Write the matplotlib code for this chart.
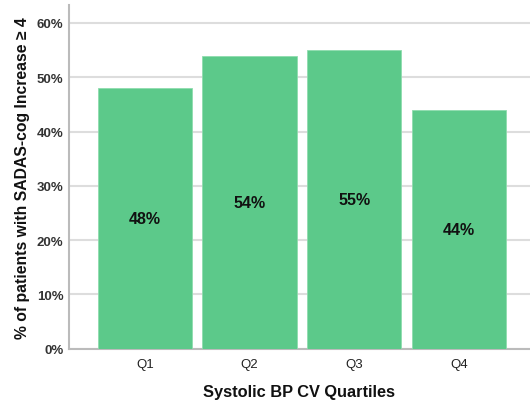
import matplotlib
matplotlib.use("Agg")
import matplotlib.pyplot as plt
from matplotlib.ticker import FuncFormatter

quartiles = ["Q1", "Q2", "Q3", "Q4"]
pct_increase = [48, 54, 55, 44]
bar_labels = ["48%", "54%", "55%", "44%"]
y_ticks = [0, 10, 20, 30, 40, 50, 60]

plt.rcParams["font.family"] = ["Liberation Sans", "DejaVu Sans"]

fig = plt.figure(figsize=(5.3, 4.06), dpi=100)
ax = fig.add_axes([0.130, 0.139, 0.870, 0.846])

x = range(len(quartiles))
bars = ax.bar(x, pct_increase, width=0.9, color="#5cc98a", edgecolor="#8fdcae",
              linewidth=0.6, zorder=3)

# value labels at half the bar height
for xi, val, lab in zip(x, pct_increase, bar_labels):
    ax.text(xi, val / 2, lab, ha="center", va="center", fontsize=11.5,
            fontweight="bold", color="#111111", zorder=4)

ax.set_xlim(-0.726, 3.68)
ax.set_ylim(0, 63.3)
ax.set_xticks(list(x))
ax.set_xticklabels(quartiles, fontsize=9.5, color="#222222")
ax.set_yticks(y_ticks)
ax.yaxis.set_major_formatter(FuncFormatter(lambda v, _: f"{v:.0f}%"))
for t in ax.get_yticklabels():
    t.set_fontsize(9.5)
    t.set_fontweight("bold")
    t.set_color("#333333")
ax.tick_params(axis="y", length=0, pad=4)
ax.tick_params(axis="x", length=0, pad=7)

ax.grid(axis="y", color="#dddddd", linewidth=1.5, zorder=0)
for s in ["top", "right"]:
    ax.spines[s].set_visible(False)
for s in ["left", "bottom"]:
    ax.spines[s].set_color("#bbbbbb")
    ax.spines[s].set_linewidth(1.5)

ax.set_xlabel("Systolic BP CV Quartiles", fontsize=11.8, fontweight="bold",
              color="#111111", labelpad=10)
ax.set_ylabel("% of patients with SADAS-cog Increase \u2265 4", fontsize=11.3,
              fontweight="bold", color="#111111", labelpad=5)

fig.savefig("out.png", dpi=100)
